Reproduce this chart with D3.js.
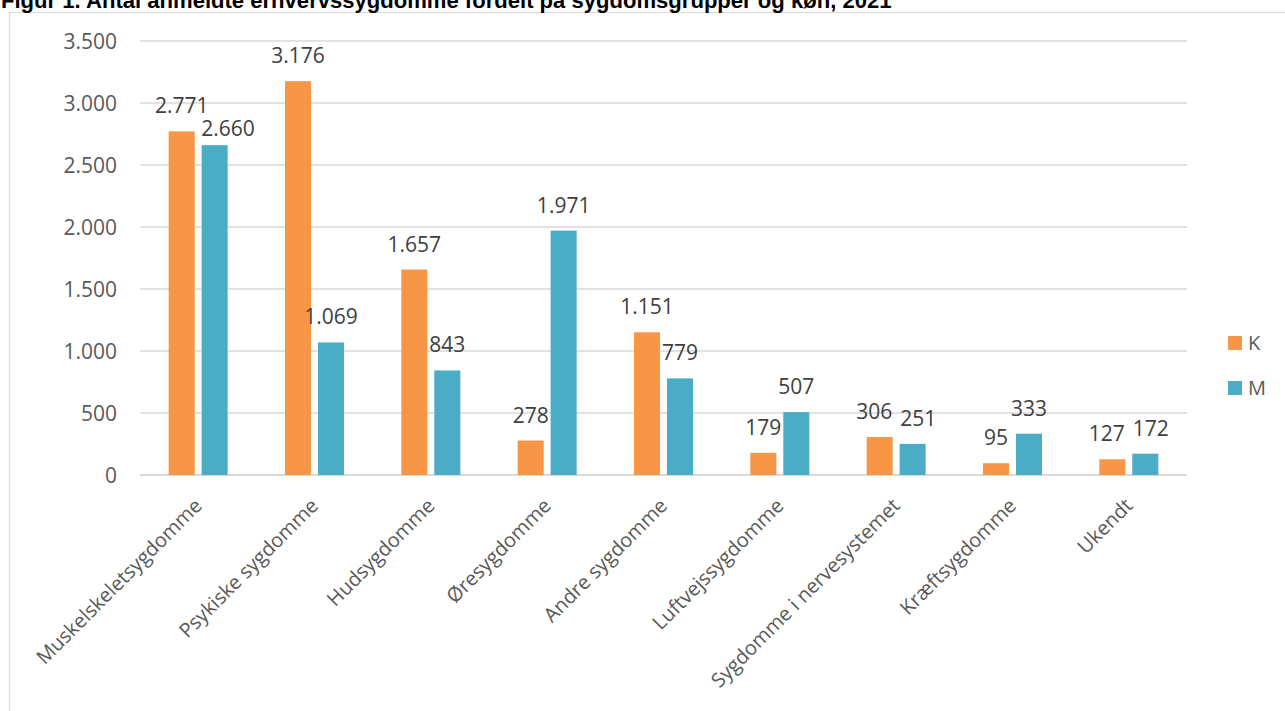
<!DOCTYPE html>
<html><head><meta charset="utf-8">
<script src="https://cdn.jsdelivr.net/npm/d3@7"></script>
<style>
html,body{margin:0;padding:0;background:#fff;overflow:hidden}
svg{display:block}
</style></head>
<body>
<svg id="c" width="1285" height="711"></svg>
<script>
const title = "Figur 1. Antal anmeldte erhvervssygdomme fordelt på sygdomsgrupper og køn, 2021";
const categories = ["Muskelskeletsygdomme","Psykiske sygdomme","Hudsygdomme","Øresygdomme","Andre sygdomme","Luftvejssygdomme","Sygdomme i nervesystemet","Kræftsygdomme","Ukendt"];
const seriesNames = ["K","M"];
const valuesK = [2771,3176,1657,278,1151,179,306,95,127];
const valuesM = [2660,1069,843,1971,779,507,251,333,172];
const yTicks = [0,500,1000,1500,2000,2500,3000,3500];
const colors = {K:"#F79646", M:"#4BACC6"};

const svg = d3.select("#c");
const fmt = v => d3.format(",")(v).replace(/,/g,".");
const FONT = "'Open Sans', sans-serif";

// frame
svg.append("line").attr("x1",9).attr("x2",1285).attr("y1",12.5).attr("y2",12.5).attr("stroke","#d9d9d9").attr("stroke-width",1.2);
svg.append("line").attr("x1",9.5).attr("x2",9.5).attr("y1",12).attr("y2",711).attr("stroke","#d9d9d9").attr("stroke-width",1.2);

// title (cut off at top)
const t = svg.append("text").attr("x",1).attr("y",8).attr("font-family","'Liberation Sans', Arial, sans-serif")
  .attr("font-weight","bold").attr("font-size",18).attr("fill","#000").text(title);
const tl = t.node().getComputedTextLength();
t.attr("font-size", 18*891/tl);

const x0 = d3.scaleBand().domain(categories).range([140,1187]).padding(0);
const groupW = 59;
const x1 = d3.scaleBand().domain(seriesNames).range([0,groupW]).paddingInner(0.21);
const y = d3.scaleLinear().domain([0,3500]).range([475,41]);

// gridlines
svg.append("g").selectAll("line").data(yTicks).join("line")
  .attr("x1",140).attr("x2",1187).attr("y1",d=>y(d)).attr("y2",d=>y(d))
  .attr("stroke","#d9d9d9").attr("stroke-width",d=>d===0?2:1.5);

// y axis labels
const yAxis = d3.axisLeft(y).tickValues(yTicks).tickFormat(fmt).tickSize(0).tickPadding(0);
const ya = svg.append("g").attr("transform","translate(117,0)").call(yAxis);
ya.select(".domain").remove();
ya.selectAll("text").attr("font-family",FONT).attr("font-size",21).attr("fill","#595959").attr("dy","0.35em");

const data = categories.map((c,i)=>({cat:c, vals:[{s:"K",v:valuesK[i]},{s:"M",v:valuesM[i]}]}));
const off = (x0.bandwidth()-groupW)/2;
const g = svg.append("g").selectAll("g").data(data).join("g")
  .attr("transform",d=>`translate(${x0(d.cat)+off},0)`);
g.selectAll("rect").data(d=>d.vals).join("rect")
  .attr("x",d=>x1(d.s)).attr("width",x1.bandwidth())
  .attr("y",d=>y(d.v)).attr("height",d=>y(0)-y(d.v))
  .attr("fill",d=>colors[d.s]);
g.each(function(d){
  const grp = d3.select(this);
  const labs = d.vals.map(v=>{
    const el = grp.append("text")
      .attr("text-anchor","middle").attr("font-family",FONT).attr("font-size",21).attr("fill","#404040")
      .text(fmt(v.v));
    const w = el.node().getComputedTextLength();
    return {el, cx:x1(v.s)+x1.bandwidth()/2, w, by:y(v.v)-18};
  });
  // resolve overlap between the two labels of a group
  const [a,b] = labs;
  const overlap = (a.cx + a.w/2) - (b.cx - b.w/2);
  const dv = Math.abs(a.by - b.by);
  if (dv < 10) {
    const need = overlap + 8;
    if (need > 0) { a.cx -= need/2; b.cx += need/2; }
  } else if (dv < 22 && overlap > 0) {
    const lower = a.by > b.by ? a : b;
    lower.cx += (lower===b ? 1 : -1) * overlap*0.65;
    lower.by += 9;
  }
  labs.forEach(l=>l.el.attr("x",l.cx).attr("y",l.by));
});

// x axis labels
const xa = svg.append("g").attr("transform","translate(0,475)")
  .call(d3.axisBottom(x0).tickSize(0).tickPadding(0));
xa.select(".domain").remove();
xa.selectAll("text").attr("font-family",FONT).attr("font-size",20).attr("fill","#595959")
  .attr("text-anchor","end").attr("dy",null).attr("y",0)
  .attr("transform","translate(5,32) rotate(-45)");

// legend
const lg = svg.append("g").selectAll("g").data(seriesNames).join("g")
  .attr("transform",(d,i)=>`translate(1228,${336+i*45})`);
lg.append("rect").attr("width",14).attr("height",14).attr("fill",d=>colors[d]);
lg.append("text").attr("x",20).attr("y",14).attr("font-family",FONT).attr("font-size",20).attr("fill","#595959").text(d=>d);
</script>
</body></html>
